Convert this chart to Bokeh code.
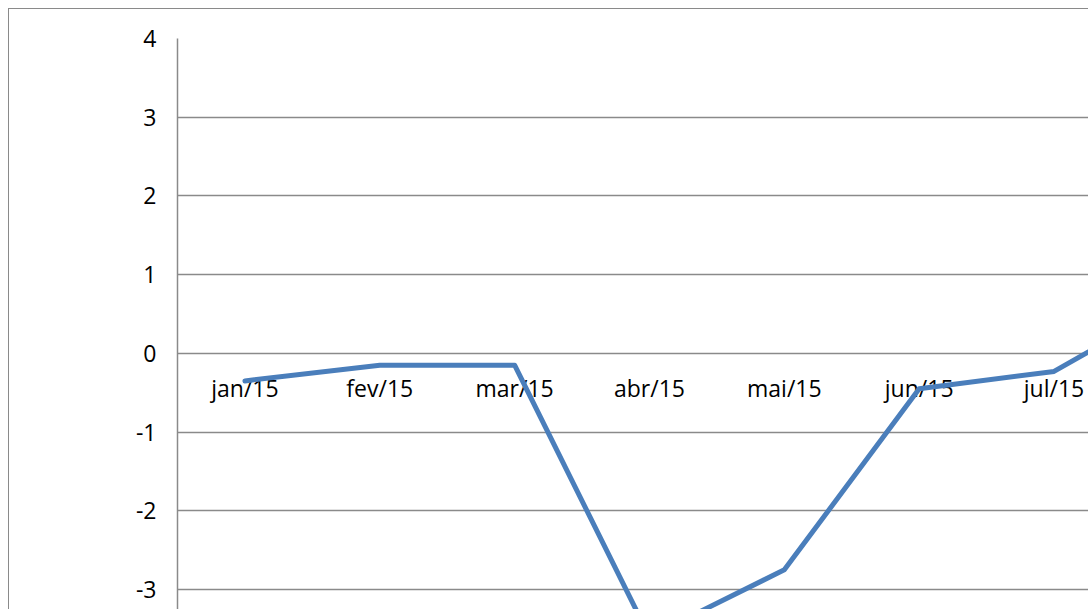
from bokeh.plotting import figure
from bokeh.models import Range1d, FixedTicker, ColumnDataSource, CDSView, IndexFilter
from bokeh.core.properties import value
from bokeh.embed import file_html
from bokeh.resources import INLINE

months = ["jan/15", "fev/15", "mar/15", "abr/15", "mai/15", "jun/15", "jul/15", "ago/15"]
values = [-0.35, -0.15, -0.15, -3.6, -2.75, -0.45, -0.23, 0.75]
y_ticks = [-3, -2, -1, 0, 1, 2, 3, 4]
visible_labels = 7  # category labels that fall inside the visible area

FONT = "Open Sans"
GRID = "#8a8a8a"

xs = [i + 0.5 for i in range(len(months))]
src = ColumnDataSource(dict(x=xs, y=values, m=months, zero=[0] * len(months)))

p = figure(width=1080, height=601, output_backend="svg", toolbar_location=None,
           x_range=Range1d(0, 6.763), y_range=Range1d(-3.267, 4),
           min_border_left=168, min_border_top=29, min_border_right=0, min_border_bottom=0)
p.styles = {"margin-left": "8px", "margin-top": "8px",
            "border-top": "1px solid #8a8a8a", "border-left": "1px solid #8a8a8a"}
p.outline_line_color = None
p.background_fill_color = "white"
p.border_fill_color = "white"

p.xaxis.visible = False
p.xgrid.visible = False

yax = p.yaxis[0]
yax.ticker = FixedTicker(ticks=y_ticks)
yax.major_tick_out = 0
yax.major_tick_in = 0
yax.minor_tick_out = 0
yax.minor_tick_in = 0
yax.axis_line_color = GRID
yax.axis_line_width = 1.5
yax.major_label_standoff = 21
yax.major_label_text_font = FONT
yax.major_label_text_font_size = "23px"
yax.major_label_text_color = "black"
yax.major_label_overrides = {t: str(t) for t in y_ticks}

p.ygrid.ticker = FixedTicker(ticks=y_ticks)
p.ygrid.grid_line_color = GRID
p.ygrid.grid_line_width = 1.5

label_view = CDSView(filter=IndexFilter(list(range(visible_labels))))
p.text(x="x", y="zero", text="m", source=src, view=label_view, text_font=value(FONT),
       text_font_size="23px", text_color="black", text_align="center",
       text_baseline="middle", y_offset=35)

p.line(x="x", y="y", source=src, line_color="#4a7ebb", line_width=5,
       line_join="round", line_cap="round")

open("out.html", "w").write(file_html(p, INLINE))
